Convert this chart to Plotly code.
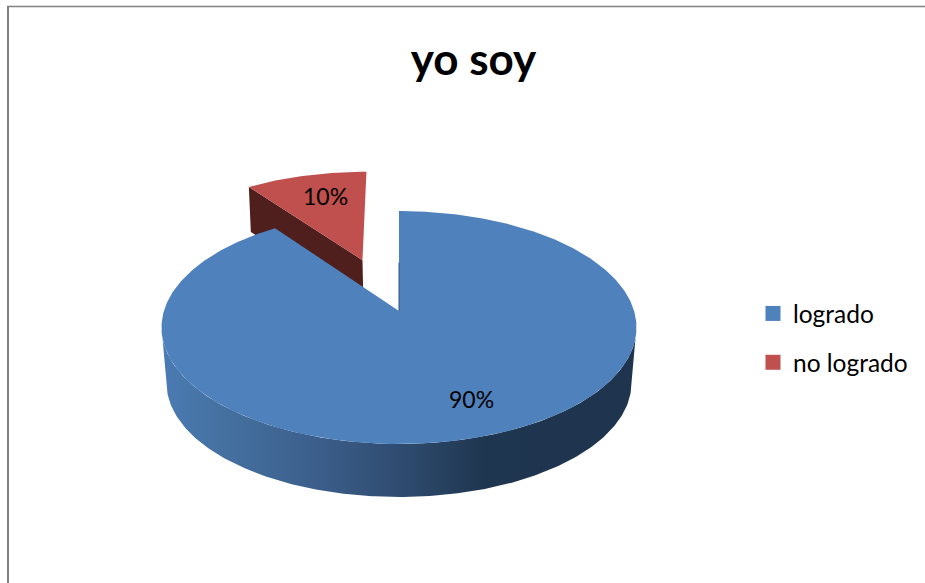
import numpy as np
import plotly.graph_objects as go

# ---- data ----
categories = ["logrado", "no logrado"]
values = [90, 10]
title_text = "yo soy"

# ---- style ----
BLUE = "#4f81bd"
RED = "#c0504d"
RED_DARK = "#4f1f1d"
FONT = "Lato"

# ---- perspective model of the 3D pie (screen pixels) ----
CX, CY = 399.0, 311.0
BX, AY, K = 235.1, 70.1, 0.1416
LOW_SCALE, LOW_DROP = 0.979, 55.8
EXPLODE = 0.5
RED_DEPTH = 45.0
RED_NUDGE = -2.5


def project(u, v):
    w = 1 + K * v
    return CX + BX * u / w, (CY - AY * v) / w


def lower(x, y):
    return CX + LOW_SCALE * (x - CX), CY + LOW_DROP + LOW_SCALE * (y - CY)


def arc(a0, a1, n=240):
    th = np.radians(np.linspace(a0, a1, n))
    return np.sin(th), np.cos(th)


total = sum(values)
blue_end = 360.0 * values[0] / total

fig = go.Figure()


def poly(x, y, color=None, gradient=None):
    kw = dict(fillcolor=color) if gradient is None else dict(fillgradient=gradient)
    fig.add_trace(go.Scatter(
        x=list(x), y=list(y), mode="lines", fill="toself",
        line=dict(width=0, color=color or BLUE), hoverinfo="skip",
        showlegend=False, **kw))


# exploded slice ("no logrado")
mid = np.radians((blue_end + 360.0) / 2)
ou, ov = EXPLODE * np.sin(mid), EXPLODE * np.cos(mid)
ru, rv = arc(blue_end, 360.0, 60)
rx, ry = project(ru + ou, rv + ov)
rx = rx + RED_NUDGE
ax, ay = project(ou, ov)
ax = ax + RED_NUDGE
corner_x, corner_y = rx[0], ry[0]
poly([corner_x, ax, ax + 1, corner_x + 2],
     [corner_y, ay, ay + RED_DEPTH, corner_y + RED_DEPTH], RED_DARK)
poly(np.r_[ax, rx, ax], np.r_[ay, ry, ay], RED)

# side wall of the large slice
su, sv = arc(98, 262)
tx, ty = project(su, sv)
lx, ly = lower(tx, ty)
poly(np.r_[tx, lx[::-1], tx[0]], np.r_[ty, ly[::-1], ty[0]], gradient=dict(
    type="horizontal",
    colorscale=[[0, "#4a7bb3"], [0.14, "#44709f"], [0.32, "#3c5f8c"],
                [0.5, "#2f4c70"], [0.68, "#1f3650"], [1, "#1f344e"]]))

# top of the large slice ("logrado")
bu, bv = arc(0, blue_end, 480)
bx, by = project(bu, bv)
poly(np.r_[CX, bx, CX], np.r_[CY, by, CY], BLUE)

# thin inner wall edge
ex, ey = project(np.array([0.0, 0.0]), np.array([0.45, 0.0]))
fig.add_trace(go.Scatter(x=ex, y=ey, mode="lines", line=dict(width=1, color="#34557f"),
                         hoverinfo="skip", showlegend=False))

# legend entries
for name, col in zip(categories, [BLUE, RED]):
    fig.add_trace(go.Scatter(
        x=[None], y=[None], mode="markers", name=name, legendgroup=name,
        marker=dict(symbol="square", size=15, color=col)))

annotations = [
    dict(x=471, y=399, text=f"{values[0]}%"),
    dict(x=325, y=196, text=f"{values[1]}%"),
]
for a in annotations:
    a.update(xref="x", yref="y", showarrow=False, xanchor="center", yanchor="middle",
             font=dict(family=FONT, size=23, color="#000000"))

fig.update_layout(
    width=925, height=583, margin=dict(l=0, r=0, t=0, b=0),
    paper_bgcolor="#ffffff", plot_bgcolor="#ffffff",
    xaxis=dict(range=[0, 925], visible=False, fixedrange=True),
    yaxis=dict(range=[583, 0], visible=False, fixedrange=True),
    title=dict(text=f"<b>{title_text}</b>", x=473.5 / 925, xanchor="center",
               y=1 - 60 / 583, yanchor="middle",
               font=dict(family=FONT, size=44, color="#000000")),
    legend=dict(x=753 / 925, y=1 - 291 / 583, xanchor="left", yanchor="top",
                font=dict(family=FONT, size=24.5, color="#000000"),
                tracegroupgap=14, bgcolor="rgba(0,0,0,0)"),
    annotations=annotations,
    shapes=[
        dict(type="line", xref="x", yref="y", x0=8, x1=8, y0=6, y1=583,
             line=dict(color="#808080", width=2)),
        dict(type="line", xref="x", yref="y", x0=7, x1=925, y0=6.5, y1=6.5,
             line=dict(color="#808080", width=1.5)),
    ],
)

fig.write_html("out.html", config={"displayModeBar": False},
               post_script="document.body.style.margin='0';")
